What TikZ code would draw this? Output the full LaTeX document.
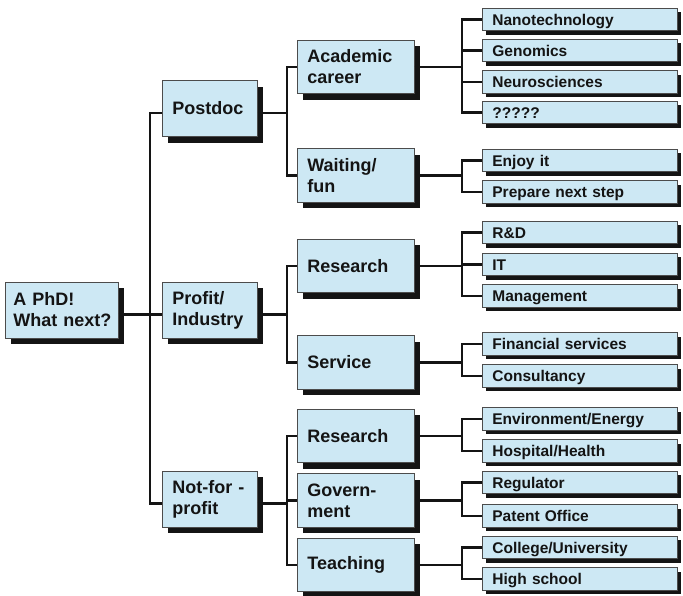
\documentclass[tikz,border=0pt]{standalone}
\usepackage{fontspec}
\setmainfont{Liberation Sans}
\usetikzlibrary{shadows}
\definecolor{boxfill}{RGB}{205,232,244}
\definecolor{ink}{RGB}{20,20,20}
\tikzset{
  base/.style={rectangle, fill=boxfill, draw=black!70, line width=0.8pt, anchor=west,
    align=left, inner ysep=0pt, inner xsep=10pt, text=ink,
    font=\bfseries\fontsize{18}{21}\selectfont},
  bigshadow/.style={drop shadow={shadow xshift=6pt, shadow yshift=-6pt, opacity=1, fill=ink}},
  rootbox/.style={base, bigshadow, inner xsep=8pt, text width=97pt, minimum height=56pt},
  lvlone/.style={base, bigshadow, text width=75pt, minimum height=56pt},
  lvltwo/.style={base, bigshadow, text width=97pt, minimum height=53.5pt},
  leaf/.style={base, drop shadow={shadow xshift=4pt, shadow yshift=-4pt, opacity=1, fill=ink},
    text width=175pt, minimum height=22.5pt, text height=13pt, text depth=2pt,
    font=\bfseries\fontsize{15.5}{18}\selectfont},
  conn/.style={draw=ink, line width=2.6pt},
}
\begin{document}
\begin{tikzpicture}[x=1pt, y=-1pt]
\useasboundingbox (0,0) rectangle (683,595);
\coordinate (b0) at (150,0);
\coordinate (b1) at (287,0);
\coordinate (b2) at (462,0);

% root and level 1
\node[rootbox] (root) at (5,310) {A~PhD!\\\mbox{What next?}};
\node[lvlone] (postdoc) at (162,108.5) {Postdoc};
\node[lvlone] (profit) at (162,310) {Profit/\\Industry};
\node[lvlone] (nfp) at (162,499) {Not-for -\\profit};

% level 2
\node[lvltwo] (acad) at (297,67) {Academic\\career};
\node[lvltwo] (wait) at (297,175.5) {Waiting/\\fun};
\node[lvltwo] (resA) at (297,266) {Research};
\node[lvltwo] (serv) at (297,362.5) {Service};
\node[lvltwo] (resB) at (297,436) {Research};
\node[lvltwo] (govt) at (297,500.5) {Govern-\\ment};
\node[lvltwo] (teach) at (297,565) {Teaching};

% leaves
\node[leaf] (nano) at (482,19.5) {Nanotechnology};
\node[leaf] (geno) at (482,50.5) {Genomics};
\node[leaf] (neuro) at (482,82) {Neurosciences};
\node[leaf] (qq) at (482,112.5) {?????};
\node[leaf] (enjoy) at (482,160.5) {Enjoy it};
\node[leaf] (prep) at (482,192) {Prepare next step};
\node[leaf] (rd) at (482,232.5) {R\&D};
\node[leaf] (it) at (482,264.5) {IT};
\node[leaf] (mgmt) at (482,296) {Management};
\node[leaf] (fin) at (482,344) {Financial services};
\node[leaf] (cons) at (482,376) {Consultancy};
\node[leaf] (env) at (482,419) {Environment/Energy};
\node[leaf] (hosp) at (482,451) {Hospital/Health};
\node[leaf] (reg) at (482,482.5) {Regulator};
\node[leaf] (pat) at (482,516) {Patent Office};
\node[leaf] (coll) at (482,547.5) {College/University};
\node[leaf] (high) at (482,579) {High school};

% connectors
\foreach \p/\c in {root/postdoc, root/profit, root/nfp}
  \draw[conn] ([yshift=-4.5pt]\p.east) -| ([yshift=-4.5pt]b0 |- \c.west) -- ([yshift=-4.5pt]\c.west);
\foreach \p/\c in {postdoc/acad, postdoc/wait, profit/resA, profit/serv, nfp/resB, nfp/govt, nfp/teach}
  \draw[conn] ([yshift=-4.5pt]\p.east) -| (b1 |- \c.west) -- (\c.west);
\foreach \p/\c in {acad/nano, acad/geno, acad/neuro, acad/qq, wait/enjoy, wait/prep,
    resA/rd, resA/it, resA/mgmt, serv/fin, serv/cons, resB/env, resB/hosp,
    govt/reg, govt/pat, teach/coll, teach/high}
  \draw[conn] (\p.east) -| (b2 |- \c.west) -- (\c.west);
\end{tikzpicture}
\end{document}
